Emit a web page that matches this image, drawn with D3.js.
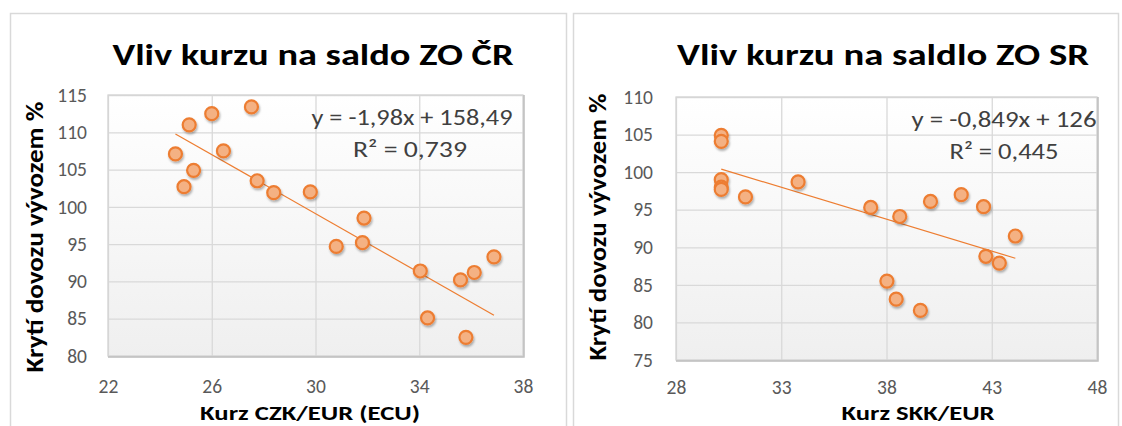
<!DOCTYPE html>
<html>
<head>
<meta charset="utf-8">
<script src="https://cdn.jsdelivr.net/npm/d3@7"></script>
<style>
  body { margin: 0; background: #fff; }
  svg text { font-family: Carlito, Lato, "Open Sans", sans-serif; }
</style>
</head>
<body>
<div id="root"></div>
<script>
// CZ: kurz CZK/EUR vs. krytí dovozu vývozem
const czRate = [24.60, 25.13, 26.00, 27.53, 25.30, 24.93, 26.45, 27.75, 28.39, 29.80,
                30.80, 31.87, 31.81, 34.04, 34.32, 35.59, 36.12, 36.88, 35.80];
const czCover = [107.1, 111.0, 112.5, 113.4, 104.9, 102.7, 107.5, 103.5, 101.9, 102.0,
                 94.7, 98.5, 95.2, 91.4, 85.1, 90.2, 91.2, 93.3, 82.5];
const czXTicks = [22, 26, 30, 34, 38];
const czYTicks = [80, 85, 90, 95, 100, 105, 110, 115];
const czTrend = [-1.98, 158.49];

// SR: kurz SKK/EUR vs. krytí dovozu vývozem
const skRate = [30.15, 30.15, 30.15, 30.15, 30.15, 31.30, 33.80, 37.25, 38.63, 40.09,
                41.55, 42.61, 44.12, 42.72, 43.36, 38.02, 38.46, 39.61];
const skCover = [104.9, 104.1, 99.0, 98.0, 97.7, 96.7, 98.7, 95.3, 94.1, 96.1,
                 97.0, 95.4, 91.5, 88.8, 87.9, 85.5, 83.1, 81.6];
const skXTicks = [28, 33, 38, 43, 48];
const skYTicks = [75, 80, 85, 90, 95, 100, 105, 110];
const skTrend = [-0.849, 126];

const W = 1122, H = 426;
const orange = "#ed7d31", orangeFill = "#f4b183";

const svg = d3.select("#root").append("svg")
    .attr("width", W)
    .attr("height", H);

const defs = svg.append("defs");
const grad = defs.append("linearGradient")
    .attr("id", "plotbg").attr("x1", 0).attr("y1", 0).attr("x2", 0).attr("y2", 1);
grad.append("stop").attr("offset", "0%").attr("stop-color", "#ffffff");
grad.append("stop").attr("offset", "100%").attr("stop-color", "#efefef");
const shadow = defs.append("filter").attr("id", "shadow")
    .attr("x", "-50%").attr("y", "-50%").attr("width", "200%").attr("height", "200%");
shadow.append("feDropShadow")
    .attr("dx", 1).attr("dy", 2).attr("stdDeviation", 1.3)
    .attr("flood-color", "#000").attr("flood-opacity", 0.3);

// text with a fixed drawn width (the original font is narrower/taller)
function fitText(g, x, y, txt, len, size, bold, anchor) {
    return g.append("text")
        .attr("x", x).attr("y", y)
        .attr("text-anchor", anchor || "middle")
        .attr("textLength", len)
        .attr("lengthAdjust", "spacingAndGlyphs")
        .style("font-size", size + "px")
        .style("font-weight", bold ? "bold" : "normal")
        .text(txt);
}

function drawChart(o) {
    // panel frame
    svg.append("rect")
        .attr("x", o.panel[0] + 0.5).attr("y", 13.5)
        .attr("width", o.panel[1] - o.panel[0]).attr("height", 440)
        .attr("fill", "#fff").attr("stroke", "#d9d9d9").attr("stroke-width", 1.5);

    const x = d3.scaleLinear().domain(o.xDomain).range([o.x0, o.x1]);
    const y = d3.scaleLinear().domain(o.yDomain).range([o.y1, o.y0]);
    const pw = o.x1 - o.x0, ph = o.y1 - o.y0;

    // plot area
    svg.append("rect")
        .attr("x", o.x0).attr("y", o.y0).attr("width", pw).attr("height", ph)
        .attr("fill", "url(#plotbg)");

    // grid + tick labels
    const gx = svg.append("g")
        .attr("transform", "translate(0," + o.y1 + ")")
        .call(d3.axisBottom(x).tickValues(o.xTicks).tickSizeInner(-ph).tickSizeOuter(0).tickPadding(o.xPad));
    const gy = svg.append("g")
        .attr("transform", "translate(" + o.x0 + ",0)")
        .call(d3.axisLeft(y).tickValues(o.yTicks).tickSizeInner(-pw).tickSizeOuter(0).tickPadding(o.yPad));
    [gx, gy].forEach(g => {
        g.select(".domain").remove();
        g.selectAll("line").attr("stroke", "#d9d9d9").attr("stroke-width", 1.3);
        g.selectAll("text").attr("fill", "#595959").style("font-size", "19.5px");
    });

    // plot border
    svg.append("rect")
        .attr("x", o.x0).attr("y", o.y0).attr("width", pw).attr("height", ph)
        .attr("fill", "none").attr("stroke", "#d4d4d4").attr("stroke-width", 1.3);
    svg.append("path")
        .attr("d", `M${o.x0},${o.y1 + 1}H${o.x1 + 1}V${o.y0}`)
        .attr("fill", "none").attr("stroke", "#bfbfbf").attr("stroke-width", 1.5);

    // title
    fitText(svg, o.titleX, 65, o.title, o.titleLen, 31, true).attr("fill", "#000");

    // axis titles
    fitText(svg, o.xTitleX, 420, o.xTitle, o.xTitleLen, 20, true);
    const yt = svg.append("g")
        .attr("transform", "translate(" + o.yTitleX + "," + o.yTitleY + ") rotate(-90)");
    fitText(yt, 0, 0, o.yTitle, o.yTitleLen, 24, true);

    // trendline
    const xmin = d3.min(o.xs), xmax = d3.max(o.xs);
    const line = d3.line().x(d => x(d)).y(d => y(o.trend[0] * d + o.trend[1]));
    svg.append("path")
        .attr("d", line([xmin, xmax]))
        .attr("fill", "none").attr("stroke", orange).attr("stroke-width", 1.2);

    // points
    svg.append("g").attr("filter", "url(#shadow)")
        .selectAll("circle")
        .data(o.xs.map((v, i) => [v, o.ys[i]]))
        .enter()
        .append("circle")
        .attr("cx", d => x(d[0]))
        .attr("cy", d => y(d[1]))
        .attr("r", 6.5)
        .attr("fill", orangeFill)
        .attr("stroke", orange)
        .attr("stroke-width", 2.2);

    // equation label
    const fmt = v => String(v).replace(".", ",");
    const eq = svg.append("g").attr("fill", "#404040");
    fitText(eq, o.eqX[0], o.eqY, "y = " + fmt(o.trend[0]) + "x + " + fmt(o.trend[1]), o.eqLen[0], 23, false);
    fitText(eq, o.eqX[1], o.eqY + 32, "R² = " + fmt(o.r2), o.eqLen[1], 23, false);
}

drawChart({
    panel: [10, 566],
    x0: 108, x1: 523, y0: 95, y1: 356,
    xDomain: [22, 38], yDomain: [80, 115],
    xTicks: czXTicks, yTicks: czYTicks, xPad: 23, yPad: 21,
    xs: czRate, ys: czCover, trend: czTrend, r2: 0.739,
    title: "Vliv kurzu na saldo ZO ČR", titleX: 313, titleLen: 401,
    xTitle: "Kurz CZK/EUR (ECU)", xTitleX: 310, xTitleLen: 220,
    yTitle: "Krytí dovozu vývozem %", yTitleX: 43, yTitleY: 237, yTitleLen: 271,
    eqX: [412, 410], eqY: 125, eqLen: [201, 114]
});

drawChart({
    panel: [573, 1118],
    x0: 676, x1: 1097, y0: 97, y1: 360,
    xDomain: [28, 48], yDomain: [75, 110],
    xTicks: skXTicks, yTicks: skYTicks, xPad: 20, yPad: 23,
    xs: skRate, ys: skCover, trend: skTrend, r2: 0.445,
    title: "Vliv kurzu na saldlo ZO SR", titleX: 883, titleLen: 412,
    xTitle: "Kurz SKK/EUR", xTitleX: 918, xTitleLen: 153,
    yTitle: "Krytí dovozu vývozem %", yTitleX: 606, yTitleY: 227, yTitleLen: 267,
    eqX: [1004, 1004], eqY: 127, eqLen: [185, 109]
});
</script>
</body>
</html>
